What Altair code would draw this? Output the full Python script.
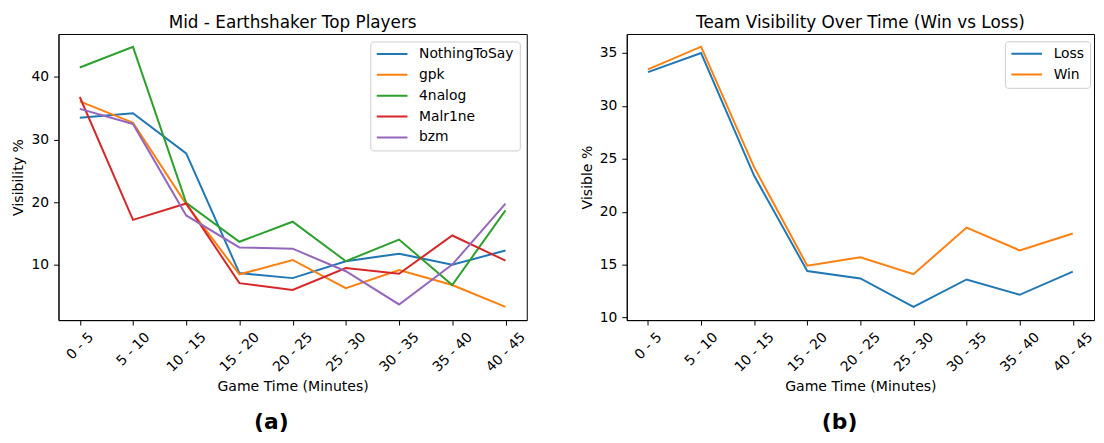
import altair as alt
import pandas as pd

time_bins = ["0 - 5", "5 - 10", "10 - 15", "15 - 20", "20 - 25",
             "25 - 30", "30 - 35", "35 - 40", "40 - 45"]
players = ["NothingToSay", "gpk", "4nalog", "Malr1ne", "bzm"]
player_colors = ["#1f77b4", "#ff7f0e", "#2ca02c", "#d62728", "#9467bd"]

nothingtosay = [33.5, 34.2, 27.8, 8.7, 7.9, 10.6, 11.8, 10.05, 12.3]
gpk = [36.1, 32.7, 19.7, 8.5, 10.8, 6.3, 9.2, 6.8, 3.3]
fournalog = [41.5, 44.8, 19.9, 13.7, 16.9, 10.6, 14.05, 6.8, 18.7]
malr1ne = [36.8, 17.2, 19.8, 7.1, 6.0, 9.5, 8.6, 14.7, 10.7]
bzm = [34.9, 32.5, 17.9, 12.8, 12.6, 9.0, 3.7, 10.05, 19.8]

outcomes = ["Loss", "Win"]
outcome_colors = ["#1f77b4", "#ff7f0e"]
loss = [33.2, 35.0, 23.4, 14.4, 13.7, 11.0, 13.6, 12.15, 14.35]
win = [33.45, 35.6, 24.2, 14.9, 15.7, 14.1, 18.5, 16.35, 17.95]

player_series = [nothingtosay, gpk, fournalog, malr1ne, bzm]
rows_a = []
for name, vals in zip(players, player_series):
    for t, v in zip(time_bins, vals):
        rows_a.append({"time": t, "player": name, "vis": v})
df_a = pd.DataFrame(rows_a)

rows_b = []
for name, vals in zip(outcomes, [loss, win]):
    for t, v in zip(time_bins, vals):
        rows_b.append({"time": t, "outcome": name, "vis": v})
df_b = pd.DataFrame(rows_b)

W_A, W_B, H = 473, 472, 289

pad_cond = {
    "condition": [
        {"test": "datum.value == '0 - 5'", "value": 20.9},
        {"test": "datum.value == '5 - 10'", "value": 24.1},
    ],
    "value": 27.2,
}


def x_enc():
    return alt.X(
        "time:N",
        sort=time_bins,
        scale=alt.Scale(type="point", padding=0.4),
        axis=alt.Axis(
            title="Game Time (Minutes)",
            labelAngle=-45,
            labelAlign="center",
            labelBaseline="middle",
            labelPadding=pad_cond,
            labelOverlap=False,
            tickSize=5,
            titlePadding=5,
        ),
    )


def legend(lx, ly):
    return alt.Legend(
        title=None,
        orient="none",
        legendX=lx,
        legendY=ly,
        padding=5.5,
        strokeColor="#cccccc",
        cornerRadius=3,
        fillColor="white",
        symbolType="stroke",
        symbolSize=961,
        symbolStrokeWidth=2,
        clipHeight=14,
        rowPadding=7.1,
        labelFontSize=14,
        labelOffset=10.7,
        labelColor="black",
    )


lines_a = alt.Chart(df_a).mark_line(strokeWidth=2).encode(
    x=x_enc(),
    y=alt.Y(
        "vis:Q",
        scale=alt.Scale(domain=[1.2, 46.85], nice=False, zero=False),
        axis=alt.Axis(title="Visibility %", values=[10, 20, 30, 40],
                      tickSize=5, labelPadding=5, titlePadding=6),
    ),
    color=alt.Color("player:N", sort=players,
                    scale=alt.Scale(domain=players, range=player_colors),
                    legend=legend(315, 7.6)),
)

lab_a = alt.Chart(pd.DataFrame({"t": ["(a)"]})).mark_text(
    fontSize=22, fontWeight="bold", align="center", baseline="alphabetic",
    color="black"
).encode(text="t:N", x=alt.value(215), y=alt.value(399.5))

panel_a = alt.layer(lines_a, lab_a).properties(
    width=W_A, height=H, title="Mid - Earthshaker Top Players"
)

lines_b = alt.Chart(df_b).mark_line(strokeWidth=2).encode(
    x=x_enc(),
    y=alt.Y(
        "vis:Q",
        scale=alt.Scale(domain=[9.76, 36.8], nice=False, zero=False),
        axis=alt.Axis(title="Visible %", values=[10, 15, 20, 25, 30, 35],
                      tickSize=5, labelPadding=5, titlePadding=5),
    ),
    color=alt.Color("outcome:N", sort=outcomes,
                    scale=alt.Scale(domain=outcomes, range=outcome_colors),
                    legend=legend(382, 7.4)),
)

lab_b = alt.Chart(pd.DataFrame({"t": ["(b)"]})).mark_text(
    fontSize=22, fontWeight="bold", align="center", baseline="alphabetic",
    color="black"
).encode(text="t:N", x=alt.value(215), y=alt.value(399.5))

panel_b = alt.layer(lines_b, lab_b).properties(
    width=W_B, height=H, title="Team Visibility Over Time (Win vs Loss)"
)

chart = (
    alt.hconcat(panel_a, panel_b, spacing=51)
    .resolve_scale(color="independent", x="independent", y="independent")
    .properties(padding={"left": 2, "top": 3.1, "right": 0, "bottom": 0})
    .configure(font="DejaVu Sans")
    .configure_view(stroke="black", strokeWidth=1)
    .configure_axis(
        grid=False,
        domainColor="black",
        domainWidth=1,
        tickColor="black",
        tickWidth=1,
        labelColor="black",
        titleColor="black",
        labelFontSize=14,
        titleFontSize=14.2,
        titleFontWeight="normal",
        labelFont="DejaVu Sans",
        titleFont="DejaVu Sans",
    )
    .configure_title(
        font="DejaVu Sans",
        fontSize=17,
        fontWeight="normal",
        color="black",
        anchor="middle",
        baseline="alphabetic",
        offset=2.4,
    )
    .configure_legend(labelFont="DejaVu Sans")
)

chart.save("out.html", embed_options={"renderer": "svg", "actions": False})
